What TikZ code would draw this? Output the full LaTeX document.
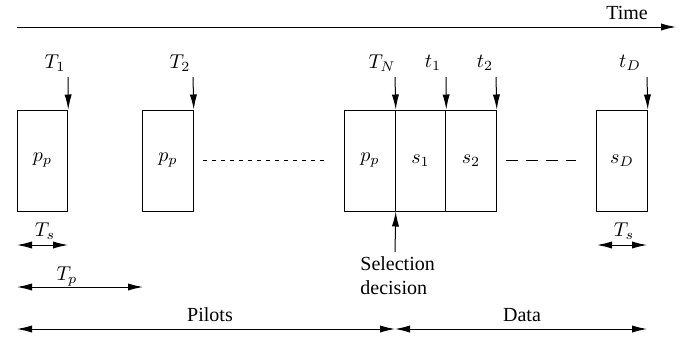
\documentclass[tikz,border=0pt]{standalone}
\usepackage{fontspec}
\setmainfont{Liberation Serif}
\usetikzlibrary{arrows.meta}
\tikzset{
slot/.style={draw, line width=0.5pt, minimum width=25.25pt, minimum height=50.5pt, inner sep=0pt},
tip/.style={-{Latex[length=7.5pt,width=3.6pt]}, line width=0.5pt},
span/.style={{Latex[length=7.5pt,width=3.6pt]}-{Latex[length=7.5pt,width=3.6pt]}, line width=0.5pt},
}
\begin{document}
\begin{tikzpicture}[x=0.5pt,y=-0.5pt]
\useasboundingbox (0,0) rectangle (699,339);
% TIME AXIS
\coordinate (time_start) at (17,27);
\coordinate (time_end) at (676,27);
\draw[tip] (time_start) -- (time_end);
\node at (627,13) (time_label) {Time};
% SLOTS
\node[slot] at (42.5,160.5) (pilot_one) {$p_p$};
\node[slot] at (168,160.5) (pilot_two) {$p_p$};
\node[slot] at (370,160.5) (pilot_last) {$p_p$};
\node[slot] at (420.5,160.5) (data_one) {$s_1$};
\node[slot] at (471,160.5) (data_two) {$s_2$};
\node[slot] at (622,160.5) (data_last) {$s_D$};
\draw[line width=0.5pt, dash pattern=on 2.3pt off 2.2pt] % Pilot gap
([xshift=4.5pt]pilot_two.east) -- ([xshift=-8.5pt]pilot_last.west);
\draw[line width=0.5pt, dash pattern=on 6pt off 4pt] % Data gap
([xshift=4.5pt]data_two.east) -- ([xshift=-10pt]data_last.west);
% INSTANTS
\node at (55,63) (T_one) {$T_1$};
\node at (180,63) (T_two) {$T_2$};
\node at (382,63) (T_last) {$T_N$};
\node at (433,63) (t_one) {$t_1$};
\node at (485,63) (t_two) {$t_2$};
\node at (630,63) (t_last) {$t_D$};
\coordinate (T_one_top) at (68,77);
\coordinate (T_two_top) at (193,77);
\coordinate (T_last_top) at (395,77);
\coordinate (t_one_top) at (446,77);
\coordinate (t_two_top) at (496,77);
\coordinate (t_last_top) at (647,77);
\draw[tip] (T_one_top) -- (pilot_one.north east);
\draw[tip] (T_two_top) -- (pilot_two.north east);
\draw[tip] (T_last_top) -- (pilot_last.north east);
\draw[tip] (t_one_top) -- (data_one.north east);
\draw[tip] (t_two_top) -- (data_two.north east);
\draw[tip] (t_last_top) -- (data_last.north east);
% SELECTION
\node[anchor=west, align=left, inner sep=0pt] at (360,276) (selection) {Selection\\decision};
\coordinate (selection_top) at (395,252);
\draw[tip] (selection_top) -- (pilot_last.south east);
% DURATIONS
\coordinate (Ts_left_a) at (17,245);
\coordinate (Ts_left_b) at (68,245);
\coordinate (Ts_right_a) at (597,245);
\coordinate (Ts_right_b) at (647,245);
\coordinate (Tp_a) at (17,287);
\coordinate (Tp_b) at (143,287);
\draw[span] (Ts_left_a) -- (Ts_left_b);
\draw[span] (Ts_right_a) -- (Ts_right_b);
\draw[span] (Tp_a) -- (Tp_b);
\node at (45,231) (Ts_left) {$T_s$};
\node at (624,231) (Ts_right) {$T_s$};
\node at (67,277) (Tp) {$T_p$};
% PHASES
\coordinate (pilots_a) at (17,329);
\coordinate (pilots_b) at (395,329);
\coordinate (data_b) at (647,329);
\draw[span] (pilots_a) -- (pilots_b);
\draw[span] (pilots_b) -- (data_b);
\node at (210,315) (pilots_label) {Pilots};
\node at (522,315) (data_label) {Data};
\end{tikzpicture}
\end{document}
